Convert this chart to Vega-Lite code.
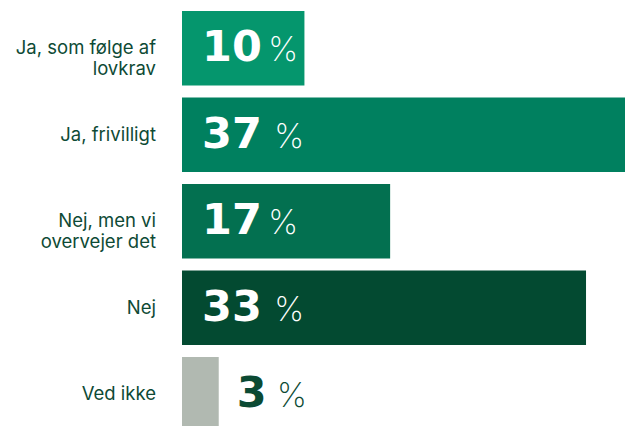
{
  "$schema": "https://vega.github.io/schema/vega-lite/v6.json",
  "width": 453,
  "height": 420.5,
  "autosize": "none",
  "padding": {"left": 182, "top": 11, "right": 0, "bottom": 0},
  "background": "white",
  "config": {"view": {"stroke": null}},
  "data": {
    "values": [
      {"label": "Ja, som følge af\nlovkrav", "value": 10},
      {"label": "Ja, frivilligt", "value": 37},
      {"label": "Nej, men vi\novervejer det", "value": 17},
      {"label": "Nej", "value": 33},
      {"label": "Ved ikke", "value": 3}
    ]
  },
  "encoding": {
    "y": {
      "field": "label",
      "type": "nominal",
      "sort": null,
      "axis": null,
      "scale": {"paddingInner": 0.139, "paddingOuter": 0}
    }
  },
  "layer": [
    {
      "mark": {"type": "bar"},
      "encoding": {
        "x": {
          "field": "value",
          "type": "quantitative",
          "axis": null,
          "scale": {"domain": [0, 37], "nice": false}
        },
        "color": {
          "field": "label",
          "type": "nominal",
          "sort": null,
          "legend": null,
          "scale": {"range": ["#05966d", "#00805f", "#037050", "#034a31", "#b1b9b1"]}
        }
      }
    },
    {
      "mark": {
        "type": "text",
        "align": "right",
        "baseline": "middle",
        "dx": -26,
        "lineBreak": "\n",
        "lineHeight": 21,
        "font": "Inter",
        "fontSize": 18.5,
        "color": "#0e4a35"
      },
      "encoding": {"x": {"datum": 0}, "text": {"field": "label"}}
    },
    {
      "transform": [{"filter": "datum.value >= 5"}],
      "mark": {
        "type": "text",
        "align": "left",
        "baseline": "middle",
        "dx": 20,
        "font": "DejaVu Sans",
        "fontWeight": "bold",
        "fontSize": 43,
        "color": "white"
      },
      "encoding": {"x": {"datum": 0}, "text": {"field": "value"}}
    },
    {
      "transform": [{"filter": "datum.value >= 5"}],
      "mark": {
        "type": "text",
        "align": "left",
        "baseline": "middle",
        "dx": {"expr": "datum.value > 30 ? 92 : 86"},
        "dy": 3,
        "font": "Inter",
        "fontWeight": 200,
        "fontSize": 34,
        "color": "white"
      },
      "encoding": {"x": {"datum": 0}, "text": {"value": "%"}}
    },
    {
      "transform": [{"filter": "datum.value < 5"}],
      "mark": {
        "type": "text",
        "align": "left",
        "baseline": "middle",
        "dx": 18,
        "font": "DejaVu Sans",
        "fontWeight": "bold",
        "fontSize": 43,
        "color": "#0b4a33"
      },
      "encoding": {"x": {"field": "value", "type": "quantitative"}, "text": {"field": "value"}}
    },
    {
      "transform": [{"filter": "datum.value < 5"}],
      "mark": {
        "type": "text",
        "align": "left",
        "baseline": "middle",
        "dx": 58,
        "dy": 3,
        "font": "Inter",
        "fontWeight": 200,
        "fontSize": 34,
        "color": "#0b4a33"
      },
      "encoding": {"x": {"field": "value", "type": "quantitative"}, "text": {"value": "%"}}
    }
  ]
}
